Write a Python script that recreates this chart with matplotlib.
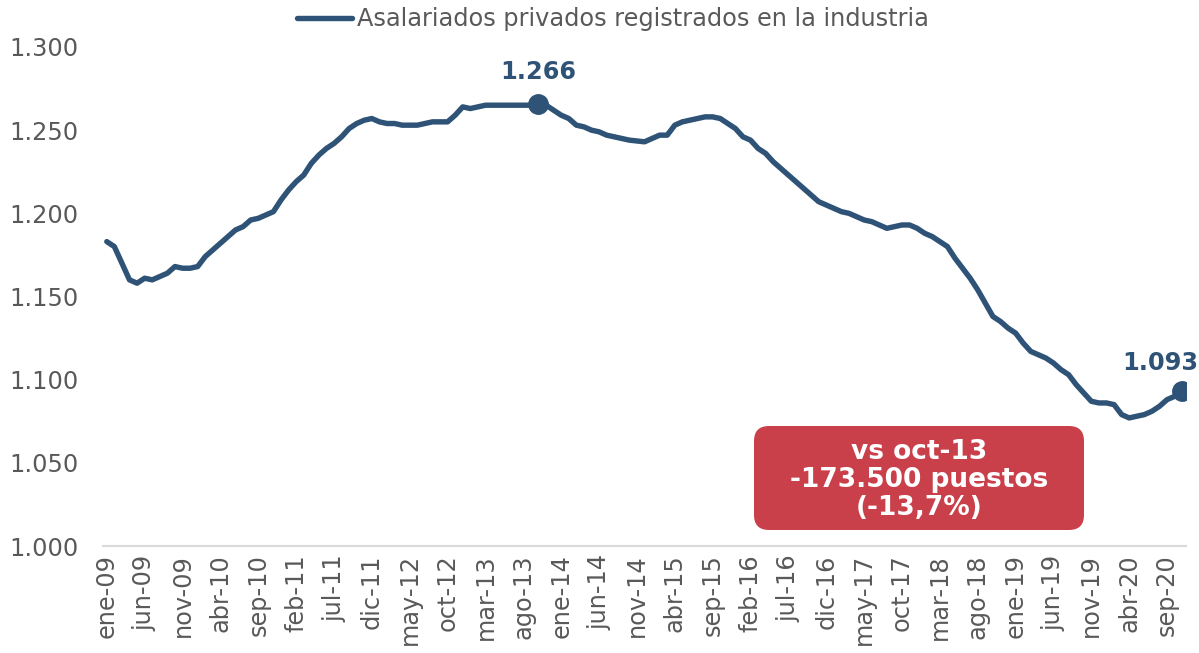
import matplotlib
matplotlib.use("Agg")
import matplotlib.pyplot as plt
from matplotlib.patches import FancyBboxPatch
from matplotlib.transforms import IdentityTransform

plt.rcParams["font.family"] = ["DejaVu Sans"]

# --------------------------------------------------------------------------- #
# Data: asalariados privados registrados en la industria (miles), ene-09..nov-20
# --------------------------------------------------------------------------- #
start_year = 2009
month_abbr = ["ene", "feb", "mar", "abr", "may", "jun",
              "jul", "ago", "sep", "oct", "nov", "dic"]

values = [
    # 2009
    1183, 1180, 1170, 1160, 1158, 1161, 1160, 1162, 1164, 1168, 1167, 1167,
    # 2010
    1168, 1174, 1178, 1182, 1186, 1190, 1192, 1196, 1197, 1199, 1201, 1208,
    # 2011
    1214, 1219, 1223, 1230, 1235, 1239, 1242, 1246, 1251, 1254, 1256, 1257,
    # 2012
    1255, 1254, 1254, 1253, 1253, 1253, 1254, 1255, 1255, 1255, 1259, 1264,
    # 2013
    1263, 1264, 1265, 1265, 1265, 1265, 1265, 1265, 1265, 1266, 1265, 1262,
    # 2014
    1259, 1257, 1253, 1252, 1250, 1249, 1247, 1246, 1245, 1244, 1243.5, 1243,
    # 2015
    1245, 1247, 1247, 1253, 1255, 1256, 1257, 1258, 1258, 1257, 1254, 1251,
    # 2016
    1246, 1244, 1239, 1236, 1231, 1227, 1223, 1219, 1215, 1211, 1207, 1205,
    # 2017
    1203, 1201, 1200, 1198, 1196, 1195, 1193, 1191, 1192, 1193, 1193, 1191,
    # 2018
    1188, 1186, 1183, 1180, 1173, 1167, 1161, 1154, 1146, 1138, 1135, 1131,
    # 2019
    1128, 1122, 1117, 1115, 1113, 1110, 1106, 1103, 1097, 1092, 1087, 1086,
    # 2020
    1086, 1085, 1079, 1077, 1078, 1079, 1081, 1084, 1088, 1090, 1093,
]

series_label = "Asalariados privados registrados en la industria"
box_lines = ["vs oct-13", "-173.500 puestos", "(-13,7%)"]

y_ticks = [1000, 1050, 1100, 1150, 1200, 1250, 1300]
tick_step = 5

LINE = "#2E5377"
GRAY = "#595959"
RED = "#C9404A"
FS = 17.3


def fmt_miles(v):
    return f"{v:,.0f}".replace(",", ".")


labels = [f"{month_abbr[i % 12]}-{(start_year + i // 12) % 100:02d}"
          for i in range(len(values))]
x = list(range(len(values)))
peak_i = values.index(max(values))
last_i = len(values) - 1

fig = plt.figure(figsize=(11.99, 6.53), dpi=100)
ax = fig.add_axes([103 / 1199, 1 - 546 / 653, 1083 / 1199, 499 / 653])

ax.plot(x, values, color=LINE, lw=3.9, solid_capstyle="round",
        solid_joinstyle="round", label=series_label)
ax.plot([peak_i, last_i], [values[peak_i], values[last_i]], "o",
        color=LINE, markersize=14)

ax.annotate(fmt_miles(values[peak_i]), (peak_i, values[peak_i]),
            textcoords="offset points", xytext=(0, 22.5), ha="center",
            va="center", fontsize=FS, fontweight="bold", color=LINE)
ax.annotate(fmt_miles(values[last_i]), (last_i, values[last_i]),
            textcoords="offset points", xytext=(-16, 20.5), ha="center",
            va="center", fontsize=FS, fontweight="bold", color=LINE,
            annotation_clip=False)

ax.set_xlim(-0.5, last_i + 0.5)
ax.set_ylim(y_ticks[0], y_ticks[-1])
ax.set_yticks(y_ticks)
ax.set_yticklabels([fmt_miles(v) for v in y_ticks])
ax.set_xticks(x[::tick_step])
ax.set_xticklabels(labels[::tick_step], rotation=90)
ax.tick_params(axis="both", length=0, labelsize=FS, labelcolor=GRAY)
ax.tick_params(axis="y", pad=17.8)
ax.tick_params(axis="x", pad=6)

for side in ("top", "right", "left"):
    ax.spines[side].set_visible(False)
ax.spines["bottom"].set_color("#D9D9D9")
ax.spines["bottom"].set_linewidth(1.5)

fig.legend(loc="center left", bbox_to_anchor=(297 / 1199, 1 - 19 / 653),
           frameon=False, fontsize=FS, labelcolor=GRAY, handlelength=2.3,
           handletextpad=0.2, borderpad=0, borderaxespad=0)

# red callout box (pixel coordinates, origin bottom-left)
box = FancyBboxPatch((754, 653 - 530), 330, 104,
                     boxstyle="round,pad=0,rounding_size=15",
                     facecolor=RED, edgecolor="none",
                     transform=IdentityTransform())
fig.add_artist(box)
fig.text((754 + 165) / 1199, 1 - 480 / 653, "\n".join(box_lines),
         ha="center", va="center", fontsize=19, fontweight="bold",
         color="white", linespacing=1.1)

fig.savefig("out.png", dpi=100)
plt.close(fig)
